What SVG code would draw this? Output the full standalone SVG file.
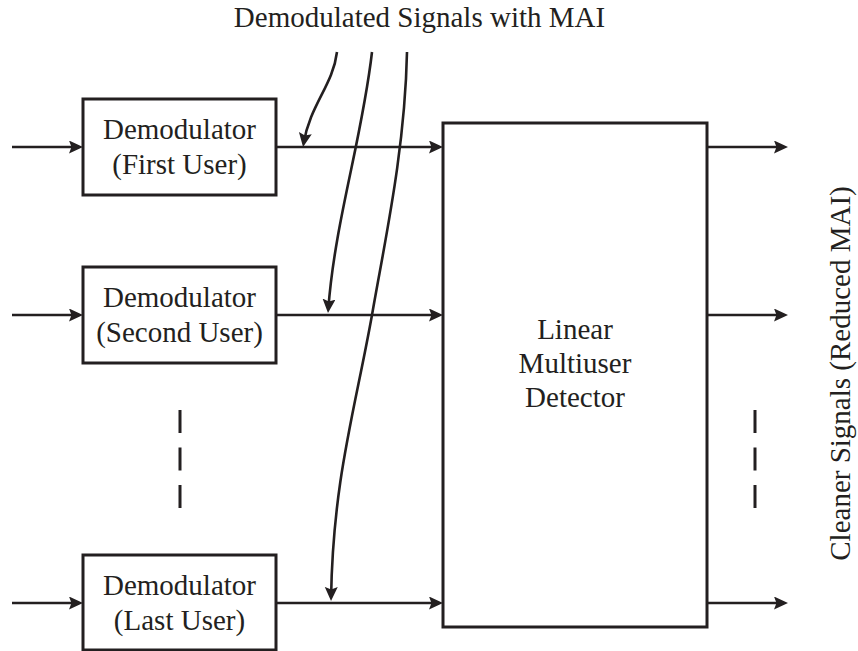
<svg xmlns="http://www.w3.org/2000/svg" width="858" height="651" viewBox="0 0 858 651">
  <style>
    .box { fill: #ffffff; stroke: #231f20; stroke-width: 3; }
    .wire { fill: none; stroke: #231f20; stroke-width: 2.6; marker-end: url(#arrow); }
    .curve { fill: none; stroke: #231f20; stroke-width: 2.6; marker-end: url(#arrow); }
    .dash { stroke: #231f20; stroke-width: 3; stroke-dasharray: 23 14.5; }
    text { font-family: "Liberation Serif", "Times New Roman", serif; font-size: 29px; fill: #231f20; text-anchor: middle; }
  </style>
  <defs>
    <marker id="arrow" markerUnits="userSpaceOnUse" markerWidth="16" markerHeight="14" refX="10" refY="6.5" orient="auto">
      <path d="M0,0 L14,6.5 L0,13 L2.5,6.5 Z" fill="#231f20"/>
    </marker>
  </defs>

  <rect width="858" height="651" fill="#ffffff"/>

  <!-- heading above the MAI curves -->
  <text x="419.5" y="27">Demodulated Signals with MAI</text>

  <g id="demod-first">
    <rect class="box" x="83" y="99" width="193" height="96"/>
    <text x="179.5" y="139">Demodulator</text>
    <text x="179.5" y="174">(First User)</text>
  </g>

  <g id="demod-second">
    <rect class="box" x="83" y="267" width="193" height="96"/>
    <text x="179.5" y="307">Demodulator</text>
    <text x="179.5" y="342">(Second User)</text>
  </g>

  <g id="demod-last">
    <rect class="box" x="83" y="555" width="193" height="95"/>
    <text x="179.5" y="595">Demodulator</text>
    <text x="179.5" y="630">(Last User)</text>
  </g>

  <g id="detector">
    <rect class="box" x="443" y="123" width="264" height="504"/>
    <text x="575" y="339">Linear</text>
    <text x="575" y="373">Multiuser</text>
    <text x="575" y="407">Detector</text>
  </g>

  <g id="output-label">
    <text transform="translate(850,373.5) rotate(-90)">Cleaner Signals (Reduced MAI)</text>
  </g>

  <g id="ellipsis">
    <line class="dash" x1="180" y1="410" x2="180" y2="508"/>
    <line class="dash" x1="755" y1="410" x2="755" y2="508"/>
  </g>

  <g id="connectors">
    <!-- inputs to demodulators -->
    <line class="wire" x1="12" y1="147" x2="79" y2="147"/>
    <line class="wire" x1="12" y1="315" x2="79" y2="315"/>
    <line class="wire" x1="12" y1="603" x2="79" y2="603"/>
    <!-- demodulators to detector -->
    <line class="wire" x1="276" y1="147" x2="439" y2="147"/>
    <line class="wire" x1="276" y1="315" x2="439" y2="315"/>
    <line class="wire" x1="276" y1="603" x2="439" y2="603"/>
    <!-- detector outputs -->
    <line class="wire" x1="707" y1="147" x2="784" y2="147"/>
    <line class="wire" x1="707" y1="315" x2="784" y2="315"/>
    <line class="wire" x1="707" y1="603" x2="784" y2="603"/>
    <!-- MAI curves landing on each demodulated signal -->
    <path class="curve" d="M337,52 C333,85 310,105 303.7,143"/>
    <path class="curve" d="M372,52 C362,140 335,220 328.3,309"/>
    <path class="curve" d="M407,52 C405,150 385,240 372,315 C355,410 333,480 331.1,597"/>
  </g>
</svg>
